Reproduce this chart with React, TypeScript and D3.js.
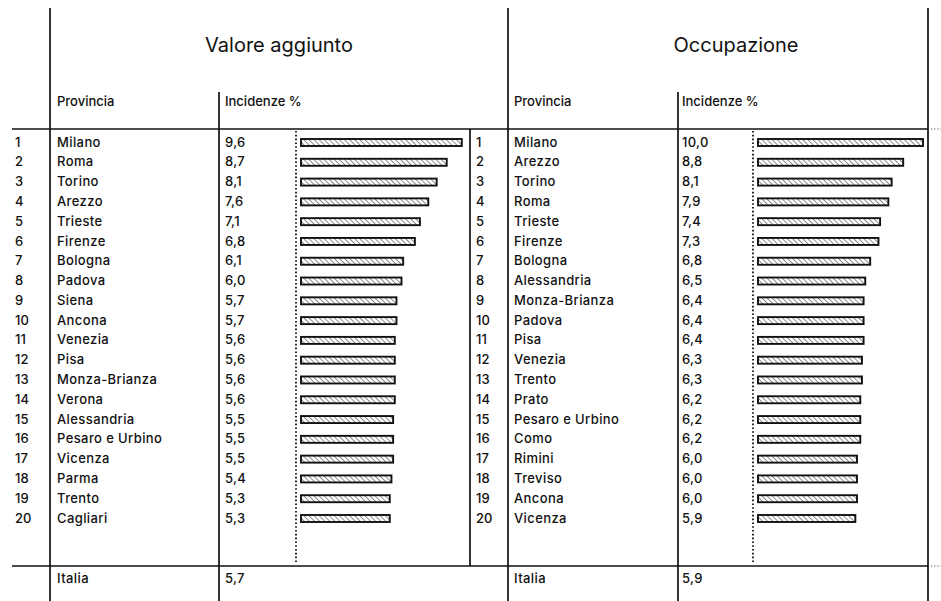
import React from 'react';
import * as d3 from 'd3';

// Valore aggiunto
const vaProvince = ['Milano', 'Roma', 'Torino', 'Arezzo', 'Trieste', 'Firenze', 'Bologna', 'Padova', 'Siena', 'Ancona',
  'Venezia', 'Pisa', 'Monza-Brianza', 'Verona', 'Alessandria', 'Pesaro e Urbino', 'Vicenza', 'Parma', 'Trento', 'Cagliari'];
const vaValues = [9.6, 8.7, 8.1, 7.6, 7.1, 6.8, 6.1, 6.0, 5.7, 5.7, 5.6, 5.6, 5.6, 5.6, 5.5, 5.5, 5.5, 5.4, 5.3, 5.3];
const vaItalia = 5.7;

// Occupazione
const occProvince = ['Milano', 'Arezzo', 'Torino', 'Roma', 'Trieste', 'Firenze', 'Bologna', 'Alessandria', 'Monza-Brianza', 'Padova',
  'Pisa', 'Venezia', 'Trento', 'Prato', 'Pesaro e Urbino', 'Como', 'Rimini', 'Treviso', 'Ancona', 'Vicenza'];
const occValues = [10.0, 8.8, 8.1, 7.9, 7.4, 7.3, 6.8, 6.5, 6.4, 6.4, 6.4, 6.3, 6.3, 6.2, 6.2, 6.2, 6.0, 6.0, 6.0, 5.9];
const occItalia = 5.9;

const W = 941;
const H = 601;
const FONT = 'Inter, "Noto Sans", sans-serif';
const INK = '#111';

const fmt = (v: number) => d3.format('.1f')(v).replace('.', ',');

// row positions
const ranks = d3.range(1, 21);
const y = d3.scalePoint<number>().domain(ranks).range([142, 518]);

type PanelProps = {
  title: string;
  names: string[];
  values: number[];
  italia: number;
  rankX: number;
  nameX: number; // left edge of the Provincia text
  barMax: number;
};

const Panel = ({ title, names, values, italia, rankX, nameX, barMax }: PanelProps) => {
  const valX = nameX + 168;
  const dotX = nameX + 239;
  const barX = nameX + 244;
  const x = d3.scaleLinear().domain([0, 10]).range([0, barMax]);
  return (
    <g>
      <text x={nameX + 222} y={52} textAnchor="middle" fontSize={20} fontWeight={400} fill={INK}>{title}</text>
      <text x={nameX} y={106} fontSize={13} fontWeight={500} fill={INK}>Provincia</text>
      <text x={valX} y={106} fontSize={13} fontWeight={500} fill={INK}>Incidenze %</text>
      <line x1={dotX} x2={dotX} y1={131} y2={563} stroke={INK} strokeWidth={1.8} strokeDasharray="1.6 2.2" />
      {ranks.map((r, i) => (
        <g key={r} transform={`translate(0,${y(r)})`} fontWeight={500}>
          <text x={rankX} dy="0.35em" fontSize={13} fill={INK}>{r}</text>
          <text x={nameX} dy="0.35em" fontSize={13} fill={INK} letterSpacing={0.4}>{names[i]}</text>
          <text x={valX} dy="0.35em" fontSize={13} fill={INK} letterSpacing={0.3}>{fmt(values[i])}</text>
          <rect x={barX} y={-3} width={x(values[i])} height={7} fill="url(#hatch)" stroke={INK} strokeWidth={1.9} />
        </g>
      ))}
      <text x={nameX} y={578} dy="0.35em" fontSize={13} fontWeight={500} fill={INK} letterSpacing={0.4}>Italia</text>
      <text x={valX} y={578} dy="0.35em" fontSize={13} fontWeight={500} fill={INK} letterSpacing={0.3}>{fmt(italia)}</text>
    </g>
  );
};

export default function App() {
  return (
    <svg width={W} height={H} style={{ position: 'absolute', left: 0, top: 0, background: '#fff' }} fontFamily={FONT}>
      <defs>
        <pattern id="hatch" width={3.6} height={3.6} patternUnits="userSpaceOnUse" patternTransform="rotate(-45)">
          <rect width={3.6} height={3.6} fill="#fff" />
          <line x1={0} y1={0} x2={0} y2={3.6} stroke="#555" strokeWidth={1.3} />
        </pattern>
      </defs>
      <rect width={W} height={H} fill="#fff" />

      <Panel title="Valore aggiunto" names={vaProvince} values={vaValues} italia={vaItalia} rankX={15} nameX={57} barMax={167.5} />
      <Panel title="Occupazione" names={occProvince} values={occValues} italia={occItalia} rankX={476} nameX={514} barMax={165} />

      <g stroke={INK} strokeWidth={1.7}>
        <line x1={50} x2={50} y1={8} y2={H} />
        <line x1={508} x2={508} y1={8} y2={H} />
        <line x1={928} x2={928} y1={8} y2={H} />
        <line x1={219} x2={219} y1={92} y2={H} />
        <line x1={678} x2={678} y1={92} y2={H} />
        <line x1={12} x2={928} y1={129} y2={129} />
        <line x1={12} x2={928} y1={566} y2={566} />
        <line x1={470} x2={470} y1={129} y2={566} />
      </g>
      <g stroke="#555" strokeWidth={1.2} strokeDasharray="1.2 2">
        <line x1={931} x2={941} y1={129} y2={129} />
        <line x1={931} x2={941} y1={566} y2={566} />
      </g>
    </svg>
  );
}
